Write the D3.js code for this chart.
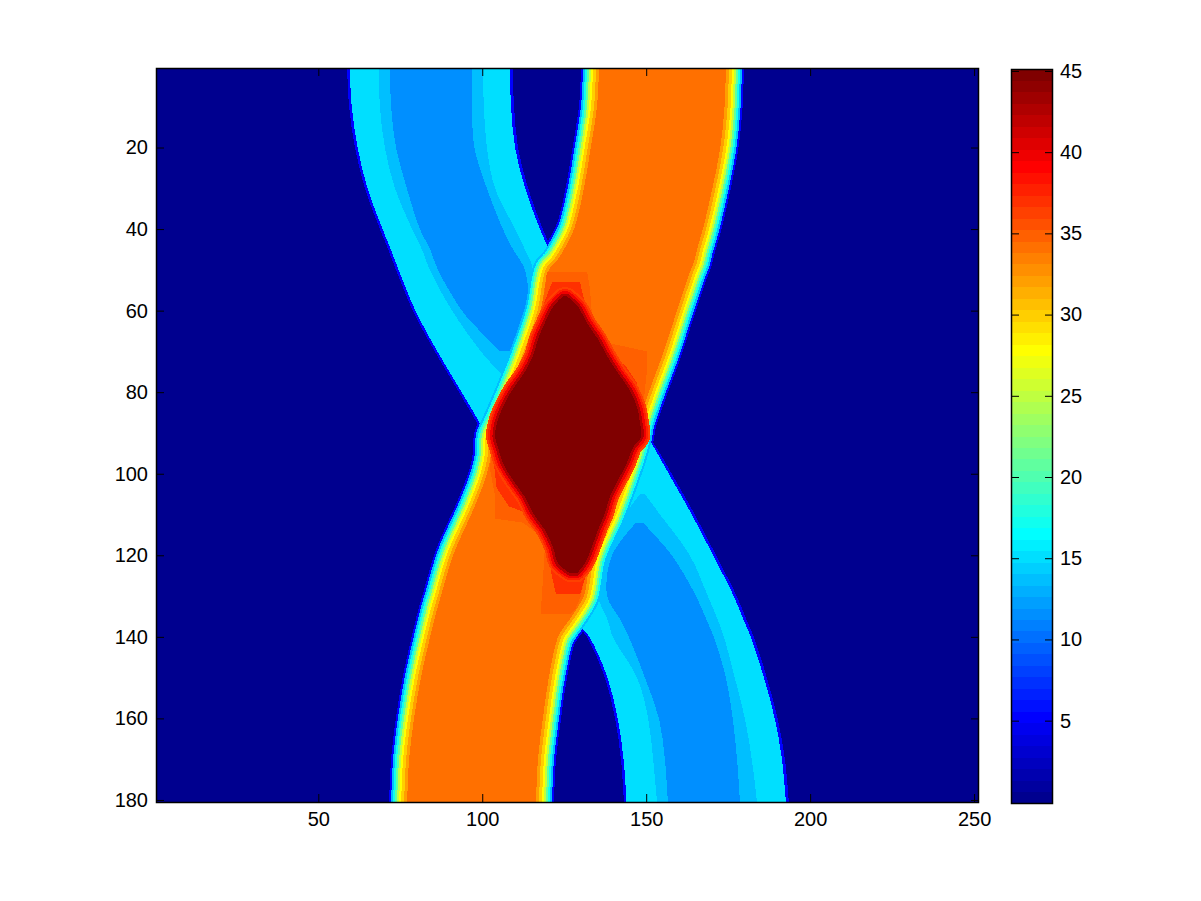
<!DOCTYPE html>
<html>
<head>
<meta charset="utf-8">
<script src="https://cdn.jsdelivr.net/npm/d3@7"></script>
<style>
  html, body { margin: 0; padding: 0; background: #fff; }
  svg { display: block; }
  text { font-family: "Liberation Sans", Arial, sans-serif; font-size: 20px; fill: #000; }
  .layer { shape-rendering: crispEdges; }
</style>
</head>
<body>
<svg id="chart" width="1201" height="901"></svg>
<script>
/*
  Heat map read off the picture as level outlines: for each band, the column
  of its left and right edge at a few rows.
*/
var xTicks = [50, 100, 150, 200, 250],
    yTicks = [20, 40, 60, 80, 100, 120, 140, 160, 180],
    colorTicks = [5, 10, 15, 20, 25, 30, 35, 40, 45],
    colCount = 251,
    rowCount = 180,
    colorRange = [-0.07, 45.12];

var backgroundValue = 0.1,
    edgeValue = 5,
    cyanValue = 15.2,
    midValue = 13.5,
    blueValue = 11.6,
    orangeValue = 34.2,
    haloValue = 35,
    innerHaloValue = 37,
    coreValue = 45;

// upper left blue band
var upperRows = [0.5, 10, 20, 30, 40, 45, 50, 60, 70, 80, 88, 91],
    upperOuterLeft = [58.8, 59.4, 61.2, 64.2, 68.8, 71.3, 73.7, 78.8, 85.5, 92.9, 98.7, 100.5],
    upperOuterRight = [109.3, 109.7, 110.9, 114.0, 118.5, 121.2, 123.7, 119.1, 114.5, 110.0, 105.4, 103.0],
    upperCyanLeft = [59.6, 60.2, 62.0, 65.0, 69.6, 72.1, 74.5, 79.6, 86.3, 93.7, 99.5, 101.1],
    upperCyanRight = [108.4, 108.8, 110.0, 113.1, 117.6, 120.3, 122.8, 118.2, 113.6, 109.1, 104.5, 102.5];

var upperMidRows = [0.5, 10, 20, 30, 40, 45, 50, 60, 70, 76],
    upperMidLeft = [68.5, 68.8, 70.3, 73.4, 78.6, 81.6, 84.0, 90.8, 99.6, 106.3],
    upperMidRight = [100.2, 100.5, 101.4, 103.9, 110.0, 113.0, 115.5, 114.5, 110.0, 107.5];

var upperBlueRows = [0.5, 10, 20, 30, 40, 45, 50, 60, 65, 70],
    upperBlueLeft = [71.9, 72.2, 73.7, 77.0, 81.0, 84.1, 86.5, 93.8, 99.3, 105.4],
    upperBlueRight = [96.9, 96.9, 97.6, 101.4, 106.3, 109.4, 113.0, 113.9, 111.5, 110.0];

// lower right blue band
var lowerRows = [91, 95, 100, 110, 120, 130, 136, 140, 150, 160, 170, 180.5],
    lowerOuterLeft = [146.9, 145.0, 142.9, 138.3, 132.8, 129.8, 128.3, 131.9, 137.4, 140.5, 142.3, 143.2],
    lowerOuterRight = [151.1, 154.2, 157.8, 164.8, 171.3, 177.6, 180.7, 182.8, 186.8, 190.1, 192.3, 193.5],
    lowerCyanLeft = [147.0, 145.5, 143.5, 139.0, 133.5, 130.5, 129.0, 132.7, 138.2, 141.3, 143.1, 144.0],
    lowerCyanRight = [150.6, 153.4, 156.9, 163.9, 170.4, 176.7, 179.8, 181.9, 185.9, 189.2, 191.4, 192.6];

var lowerMidRows = [105, 110, 120, 130, 136, 140, 150, 160, 170, 180.5],
    lowerMidLeft = [148.1, 143.5, 135.9, 135.3, 138.3, 139.8, 147.2, 150.6, 152.1, 153.3],
    lowerMidRight = [149.6, 154.2, 163.3, 168.8, 171.9, 173.7, 177.0, 180.1, 182.2, 183.8];

var lowerBlueRows = [112, 120, 130, 136, 140, 150, 160, 170, 180.5],
    lowerBlueLeft = [146.9, 139.6, 138.1, 142.3, 144.7, 149.6, 153.9, 155.7, 156.6],
    lowerBlueRight = [149.0, 157.8, 165.2, 168.5, 170.6, 174.3, 176.4, 177.7, 178.6];

// orange band running from top right to bottom left
var orangeRows = [0.5, 10, 20, 30, 40, 45, 48, 50, 60, 70, 80, 88, 91, 95, 100, 106, 110, 120, 130, 133, 136, 138, 140, 150, 160, 170, 180.5],
    orangeLeft = [135.6, 135.0, 133.1, 131.0, 128.0, 124.9, 122.5, 120.3, 117.8, 113.6, 108.8, 104.5, 102.9, 102.7, 101.4, 98.7, 96.6, 91.1, 87.4, 86.3, 85.3, 84.7, 84.1, 81.3, 79.2, 77.7, 77.1],
    orangeRight = [174.3, 173.9, 172.6, 170.2, 167.3, 165.5, 164.6, 163.6, 159.4, 155.4, 150.8, 147.5, 146.9, 145.6, 143.5, 140.8, 138.9, 133.4, 131.0, 128.9, 126.4, 124.6, 123.1, 120.3, 118.5, 117.0, 116.4];

// orange-red halo round the centre
var haloRows = [50.5, 55, 65, 68, 70, 75, 84, 91, 99, 105.5, 111, 112, 115, 118, 130, 133, 134.5],
    haloLeft = [119.7, 119.1, 116.4, 114.5, 113.9, 111.8, 106.9, 103.0, 102.4, 103.9, 103.9, 112.4, 117.3, 119.1, 118.2, 117.9, 117.9],
    haloRight = [132.0, 132.9, 133.8, 138.9, 150.2, 150.2, 149.0, 146.9, 143.8, 139.5, 137.7, 137.1, 135.3, 133.4, 130.1, 128.5, 126.8];

var innerHaloRows = [53, 57, 62, 71.3, 73.3, 77.7, 83.6, 91, 97.9, 103.5, 108, 110, 118, 125, 129.6],
    innerHaloLeft = [121.3, 119.4, 117.3, 112.7, 111.8, 109.7, 106.7, 103.6, 103.6, 104.4, 108.1, 114.8, 120.0, 121.2, 122.5],
    innerHaloRight = [129.8, 131.0, 132.8, 136.8, 143.5, 147.2, 148.4, 148.1, 144.4, 141.4, 138.4, 137.1, 133.7, 131.6, 129.8];

// dark red centre
var coreRows = [56.5, 59, 63, 67, 71, 75, 79.5, 83.6, 87.5, 91, 93.5, 97.4, 101.6, 105.7, 109.7, 113.8, 118, 122, 124.4],
    coreLeft = [124.6, 121.6, 119.1, 117.0, 115.5, 113.0, 109.1, 106.3, 104.5, 103.9, 104.8, 106.3, 109.4, 113.0, 115.5, 119.1, 121.6, 123.1, 126.8],
    coreRight = [125.8, 129.2, 131.9, 135.3, 138.0, 141.1, 145.0, 147.2, 148.1, 148.4, 146.0, 144.1, 141.4, 138.9, 137.4, 135.3, 133.4, 131.3, 128.9];

var plot = {left: 156, right: 979, top: 68, bottom: 802},
    bar = {left: 1011, right: 1053, top: 69, bottom: 803};

var svg = d3.select("#chart");

var x = d3.scaleLinear().domain([0.5, colCount + 0.5]).range([plot.left, plot.right]),
    y = d3.scaleLinear().domain([0.5, rowCount + 0.5]).range([plot.top, plot.bottom]),
    barY = d3.scaleLinear().domain(colorRange).range([bar.bottom, bar.top]);

// matlab jet with 64 steps
function jetColor(i){
  var t = (i + 1) / 64;
  function clamp(v){ return Math.round(255 * Math.max(0, Math.min(1, v))); }
  return d3.rgb(
    clamp(Math.min(4 * t - 1.5, -4 * t + 4.5)),
    clamp(Math.min(4 * t - 0.5, -4 * t + 3.5)),
    clamp(Math.min(4 * t + 0.5, -4 * t + 2.5))
  ).toString();
}

var jetColors = d3.range(64).map(jetColor);
var color = d3.scaleQuantize().domain(colorRange).range(jetColors);

svg.append("defs").append("clipPath").attr("id", "plot-clip")
  .append("rect")
    .attr("x", plot.left)
    .attr("y", plot.top)
    .attr("width", plot.right - plot.left)
    .attr("height", plot.bottom - plot.top);

var map = svg.append("g").attr("clip-path", "url(#plot-clip)");

map.append("rect")
  .attr("class", "layer")
  .attr("x", x(0.5))
  .attr("y", y(0.5))
  .attr("width", x(colCount + 0.5) - x(0.5))
  .attr("height", y(rowCount + 0.5) - y(0.5))
  .attr("fill", color(backgroundValue));

function toPoints(rows, left, right){
  return rows.map(function(d, i){ return {row: d, left: left[i], right: right[i]}; });
}

var bandArea = d3.area()
  .curve(d3.curveCatmullRom)
  .y(function(d){ return y(d.row); })
  .x0(function(d){ return x(d.left); })
  .x1(function(d){ return x(d.right); });

var haloArea = d3.area()
  .y(function(d){ return y(d.row); })
  .x0(function(d){ return x(d.left); })
  .x1(function(d){ return x(d.right); });

var leftLine = d3.line()
  .curve(d3.curveCatmullRom)
  .x(function(d){ return x(d.left); })
  .y(function(d){ return y(d.row); });

var rightLine = d3.line()
  .curve(d3.curveCatmullRom)
  .x(function(d){ return x(d.right); })
  .y(function(d){ return y(d.row); });

function drawBand(points, value, area){
  map.append("path")
    .attr("class", "layer")
    .attr("d", (area || bandArea)(points))
    .attr("fill", color(value));
}

var orangePoints = toPoints(orangeRows, orangeLeft, orangeRight);

function drawOrangeEdge(value, width){
  [leftLine, rightLine].forEach(function(line){
    map.append("path")
      .attr("class", "layer")
      .attr("d", line(orangePoints))
      .attr("fill", "none")
      .attr("stroke", color(value))
      .attr("stroke-width", width)
      .attr("stroke-linejoin", "round");
  });
}

// outermost edge goes under the blue bands
drawOrangeEdge(edgeValue, 36);

drawBand(toPoints(upperRows, upperOuterLeft, upperOuterRight), edgeValue);
drawBand(toPoints(upperRows, upperCyanLeft, upperCyanRight), cyanValue);
drawBand(toPoints(upperMidRows, upperMidLeft, upperMidRight), midValue);
drawBand(toPoints(upperBlueRows, upperBlueLeft, upperBlueRight), blueValue);

drawBand(toPoints(lowerRows, lowerOuterLeft, lowerOuterRight), edgeValue);
drawBand(toPoints(lowerRows, lowerCyanLeft, lowerCyanRight), cyanValue);
drawBand(toPoints(lowerMidRows, lowerMidLeft, lowerMidRight), midValue);
drawBand(toPoints(lowerBlueRows, lowerBlueLeft, lowerBlueRight), blueValue);

[[14, 32], [17, 28], [21, 24], [25, 20], [28, 16], [30, 12], [32, 6]].forEach(function(d){
  drawOrangeEdge(d[0], d[1]);
});

drawBand(orangePoints, orangeValue);
drawBand(toPoints(haloRows, haloLeft, haloRight), haloValue, haloArea);
drawBand(toPoints(innerHaloRows, innerHaloLeft, innerHaloRight), innerHaloValue, haloArea);

var corePoints = toPoints(coreRows, coreLeft, coreRight);

[[36, 18], [38, 14], [40, 10], [42.5, 5]].forEach(function(d){
  map.append("path")
    .attr("class", "layer")
    .attr("d", bandArea(corePoints))
    .attr("fill", color(d[0]))
    .attr("stroke", color(d[0]))
    .attr("stroke-width", d[1])
    .attr("stroke-linejoin", "round");
});
drawBand(corePoints, coreValue);

//Axes
var tickLength = 8;

function styleAxis(g){
  g.selectAll(".domain").remove();
  g.selectAll("line").attr("stroke", "#000").attr("stroke-width", 1);
  g.selectAll("text").attr("fill", "#000").style("font-size", "20px").style("font-family", '"Liberation Sans"');
}

svg.append("g")
  .attr("transform", "translate(0," + plot.bottom + ")")
  .call(d3.axisBottom(x).tickValues(xTicks).tickSizeInner(-tickLength).tickSizeOuter(0).tickPadding(10))
  .call(styleAxis);

svg.append("g")
  .attr("transform", "translate(0," + plot.top + ")")
  .call(d3.axisTop(x).tickValues(xTicks).tickSizeInner(-tickLength).tickSizeOuter(0).tickFormat(""))
  .call(styleAxis);

svg.append("g")
  .attr("transform", "translate(" + plot.left + ",0)")
  .call(d3.axisLeft(y).tickValues(yTicks).tickSizeInner(-tickLength).tickSizeOuter(0).tickPadding(8))
  .call(styleAxis);

svg.append("g")
  .attr("transform", "translate(" + plot.right + ",0)")
  .call(d3.axisRight(y).tickValues(yTicks).tickSizeInner(-tickLength).tickSizeOuter(0).tickFormat(""))
  .call(styleAxis);

svg.append("rect")
  .attr("x", plot.left + 0.5)
  .attr("y", plot.top + 0.5)
  .attr("width", plot.right - plot.left - 1)
  .attr("height", plot.bottom - plot.top)
  .attr("fill", "none")
  .attr("stroke", "#000")
  .attr("stroke-width", 1.5);

//Colorbar
var step = (colorRange[1] - colorRange[0]) / 64;

svg.append("g").selectAll("rect")
  .data(jetColors)
  .enter().append("rect")
    .attr("class", "layer")
    .attr("x", bar.left)
    .attr("width", bar.right - bar.left)
    .attr("y", function(d, i){ return barY(colorRange[0] + (i + 1) * step); })
    .attr("height", function(d, i){ return barY(colorRange[0] + i * step) - barY(colorRange[0] + (i + 1) * step) + 0.5; })
    .attr("fill", function(d){ return d; });

svg.append("g")
  .attr("transform", "translate(" + bar.left + ",0)")
  .call(d3.axisLeft(barY).tickValues(colorTicks).tickSizeInner(-tickLength).tickSizeOuter(0).tickFormat(""))
  .call(styleAxis);

svg.append("g")
  .attr("transform", "translate(" + bar.right + ",0)")
  .call(d3.axisRight(barY).tickValues(colorTicks).tickSizeInner(-tickLength).tickSizeOuter(0).tickPadding(7))
  .call(styleAxis);

svg.append("rect")
  .attr("x", bar.left + 0.5)
  .attr("y", bar.top + 0.5)
  .attr("width", bar.right - bar.left - 1)
  .attr("height", bar.bottom - bar.top)
  .attr("fill", "none")
  .attr("stroke", "#000")
  .attr("stroke-width", 1.5);
</script>
</body>
</html>
